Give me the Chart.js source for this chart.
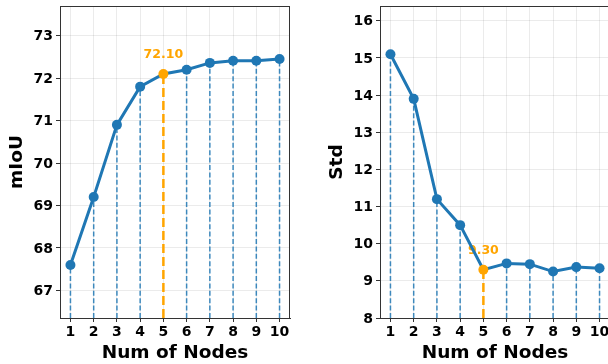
<!DOCTYPE html>
<html>
<head>
<meta charset="utf-8">
<script src="https://cdn.jsdelivr.net/npm/chart.js@4.4.0/dist/chart.umd.min.js"></script>
<style>
  html, body { margin: 0; padding: 0; width: 608px; height: 364px; overflow: hidden; background: #fff; }
  canvas { position: absolute; top: 0; }
  #miouChart { left: 0; }
  #stdChart { left: 320px; }
</style>
</head>
<body>
<canvas id="miouChart" width="300" height="364"></canvas>
<canvas id="stdChart" width="300" height="364"></canvas>
<script>
// data
const nodes = [1, 2, 3, 4, 5, 6, 7, 8, 9, 10];
const miouValues = [67.6, 69.2, 70.9, 71.8, 72.1, 72.2, 72.36, 72.41, 72.41, 72.45];
const stdValues = [15.1, 13.9, 11.2, 10.5, 9.3, 9.47, 9.45, 9.25, 9.37, 9.34];
const miouTicks = [67, 68, 69, 70, 71, 72, 73];
const stdTicks = [8, 9, 10, 11, 12, 13, 14, 15, 16];
const xLimits = [0.55, 10.45];
const miouLimits = [66.35, 73.7];
const stdLimits = [8, 16.4];
const bestIndex = 4; // 5 nodes

const BLUE = '#1f77b4';
const ORANGE = '#ffa500';
const DARK = '#333333';

Chart.defaults.font.family = '"DejaVu Sans", sans-serif';
Chart.defaults.color = '#000';

// full box around the plot like matplotlib spines
const framePlugin = {
    id: 'frame',
    afterDatasetsDraw(chart) {
        const a = chart.chartArea;
        const ctx = chart.ctx;
        ctx.save();
        ctx.strokeStyle = DARK;
        ctx.lineWidth = 1;
        ctx.strokeRect(a.left + 0.5, a.top + 0.5, a.right - a.left - 1, a.bottom - a.top);
        ctx.restore();
    }
};

// value text above the highlighted point
const bestLabelPlugin = {
    id: 'bestLabel',
    beforeDatasetsDraw(chart, args, opts) {
        const i = opts.index;
        const v = chart.data.datasets[0].data[i];
        const x = chart.scales.x.getPixelForValue(v.x);
        const y = chart.scales.y.getPixelForValue(v.y);
        const ctx = chart.ctx;
        ctx.save();
        ctx.fillStyle = ORANGE;
        ctx.font = 'bold 12.5px "DejaVu Sans"';
        ctx.textAlign = 'center';
        ctx.textBaseline = 'middle';
        ctx.fillText(v.y.toFixed(2), x, y - 19);
        ctx.restore();
    }
};

function makeChart(id, values, yLimits, yTicks, yTitle) {
    const points = nodes.map((n, i) => ({ x: n, y: values[i] }));

    // dashed drop lines from each point to the bottom of the axes
    const stems = nodes.map((n, i) => ({
        data: [{ x: n, y: yLimits[0] }, { x: n, y: values[i] }],
        borderColor: i === bestIndex ? ORANGE : 'rgba(31,119,180,0.85)',
        borderWidth: i === bestIndex ? 2.5 : 1.5,
        borderDash: i === bestIndex ? [9, 4] : [5, 2.4],
        pointRadius: 0,
        order: 2
    }));

    const main = {
        data: points,
        borderColor: BLUE,
        borderWidth: 3,
        pointRadius: 5,
        pointBackgroundColor: nodes.map((n, i) => i === bestIndex ? ORANGE : BLUE),
        pointBorderColor: nodes.map((n, i) => i === bestIndex ? ORANGE : BLUE),
        pointBorderWidth: 0,
        order: 1
    };

    return new Chart(document.getElementById(id), {
        type: 'line',
        data: { datasets: [main, ...stems] },
        plugins: [framePlugin, bestLabelPlugin],
        options: {
            responsive: false,
            animation: false,
            layout: { padding: { top: 6, right: 10, bottom: 0, left: 0 } },
            plugins: {
                legend: { display: false },
                tooltip: { enabled: false },
                bestLabel: { index: bestIndex }
            },
            scales: {
                x: {
                    type: 'linear',
                    min: xLimits[0],
                    max: xLimits[1],
                    afterBuildTicks: s => { s.ticks = nodes.map(v => ({ value: v })); },
                    afterFit: s => { s.height = 46; s.paddingLeft = 0; s.paddingRight = 0; },
                    ticks: {
                        autoSkip: false,
                        maxRotation: 0,
                        padding: 2,
                        color: '#000',
                        font: { size: 14, weight: 'bold' },
                        callback: v => String(v)
                    },
                    grid: { color: 'rgba(0,0,0,0.08)', tickColor: DARK, tickLength: 4 },
                    border: { color: DARK },
                    title: {
                        display: true,
                        text: 'Num of Nodes',
                        color: '#000',
                        font: { size: 18.5, weight: 'bold' },
                        padding: { top: 0, bottom: 0 }
                    }
                },
                y: {
                    min: yLimits[0],
                    max: yLimits[1],
                    afterBuildTicks: s => { s.ticks = yTicks.map(v => ({ value: v })); },
                    afterFit: s => { s.width = 60; s.paddingTop = 0; s.paddingBottom = 0; },
                    ticks: {
                        padding: 3,
                        labelOffset: 1,
                        color: '#000',
                        font: { size: 14, weight: 'bold' },
                        callback: v => String(v)
                    },
                    grid: { color: 'rgba(0,0,0,0.08)', tickColor: DARK, tickLength: 4 },
                    border: { color: DARK },
                    title: {
                        display: true,
                        text: yTitle,
                        color: '#000',
                        font: { size: 18.5, weight: 'bold' },
                        padding: { top: 6, bottom: 0 }
                    }
                }
            }
        }
    });
}

makeChart('miouChart', miouValues, miouLimits, miouTicks, 'mIoU');
makeChart('stdChart', stdValues, stdLimits, stdTicks, 'Std');
</script>
</body>
</html>
